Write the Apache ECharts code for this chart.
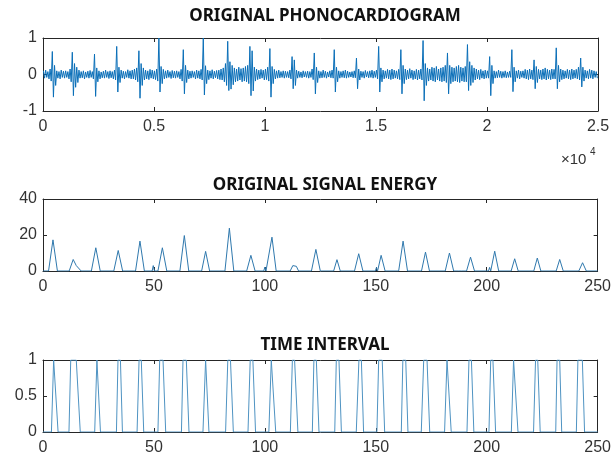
<!DOCTYPE html>
<html>
<head>
<meta charset="utf-8">
<script src="https://cdn.jsdelivr.net/npm/echarts@6/dist/echarts.min.js"></script>
<style>
    html, body { margin: 0; padding: 0; background: #fff; }
    #main { width: 614px; height: 464px; }
</style>
</head>
<body>
<div id="main"></div>
<script>
// phonocardiogram, read per 100-sample bin: upper and lower envelope
var pcgHi = [
    0.10, 0.12, 0.08, 0.15, 0.63, 0.25, 0.10, 0.08, 0.12, 0.09,
    0.10, 0.08, 0.15, 0.61, 0.30, 0.20, 0.12, 0.08, 0.10, 0.07,
    0.09, 0.11, 0.08, 0.56, 0.18, 0.10, 0.07, 0.09, 0.12, 0.08,
    0.10, 0.08, 0.12, 0.77, 0.20, 0.12, 0.09, 0.08, 0.13, 0.10,
    0.12, 0.15, 0.18, 0.65, 0.30, 0.18, 0.12, 0.10, 0.14, 0.12,
    0.10, 0.15, 1.00, 0.22, 0.14, 0.10, 0.12, 0.08, 0.11, 0.09,
    0.10, 0.08, 0.14, 0.68, 0.25, 0.12, 0.09, 0.10, 0.08, 0.12,
    0.10, 0.14, 1.00, 0.24, 0.12, 0.10, 0.13, 0.09, 0.11, 0.12,
    0.15, 0.18, 0.30, 0.91, 0.35, 0.25, 0.18, 0.15, 0.20, 0.16,
    0.18, 0.22, 0.25, 0.77, 0.65, 0.20, 0.15, 0.12, 0.14, 0.12,
    0.15, 0.20, 0.71, 0.22, 0.14, 0.10, 0.12, 0.08, 0.10, 0.09,
    0.08, 0.12, 0.49, 0.40, 0.12, 0.09, 0.07, 0.10, 0.08, 0.09,
    0.08, 0.15, 0.59, 0.20, 0.10, 0.08, 0.12, 0.09, 0.07, 0.10,
    0.12, 0.68, 0.20, 0.10, 0.08, 0.10, 0.12, 0.09, 0.07, 0.08,
    0.10, 0.45, 0.15, 0.09, 0.08, 0.11, 0.08, 0.10, 0.12, 0.09,
    0.12, 0.77, 0.18, 0.12, 0.10, 0.14, 0.12, 0.15, 0.12, 0.10,
    0.14, 0.68, 0.25, 0.15, 0.12, 0.16, 0.12, 0.10, 0.14, 0.12,
    0.15, 0.93, 0.30, 0.18, 0.15, 0.20, 0.18, 0.22, 0.15, 0.18,
    0.20, 0.25, 0.59, 0.25, 0.20, 0.18, 0.22, 0.25, 0.20, 0.18,
    0.22, 0.82, 0.35, 0.25, 0.18, 0.15, 0.12, 0.14, 0.10, 0.12,
    0.10, 0.49, 0.25, 0.10, 0.08, 0.12, 0.09, 0.08, 0.10, 0.07,
    0.09, 0.68, 0.20, 0.10, 0.12, 0.09, 0.10, 0.14, 0.12, 0.15,
    0.12, 0.40, 0.22, 0.14, 0.12, 0.15, 0.18, 0.14, 0.12, 0.15,
    0.14, 0.73, 0.25, 0.15, 0.12, 0.10, 0.14, 0.12, 0.15, 0.12,
    0.14, 0.20, 0.45, 0.20, 0.12, 0.10, 0.14, 0.12, 0.10, 0.08
];
var pcgLo = [
    -0.10, -0.08, -0.12, -0.18, -0.62, -0.30, -0.10, -0.12, -0.08, -0.10,
    -0.08, -0.12, -0.20, -0.58, -0.35, -0.22, -0.10, -0.09, -0.12, -0.08,
    -0.10, -0.08, -0.12, -0.60, -0.20, -0.12, -0.09, -0.10, -0.08, -0.11,
    -0.09, -0.12, -0.15, -0.48, -0.22, -0.10, -0.12, -0.08, -0.10, -0.12,
    -0.12, -0.15, -0.20, -0.65, -0.30, -0.15, -0.12, -0.14, -0.10, -0.12,
    -0.14, -0.18, -0.48, -0.25, -0.12, -0.10, -0.08, -0.11, -0.09, -0.10,
    -0.08, -0.12, -0.18, -0.53, -0.22, -0.12, -0.10, -0.08, -0.12, -0.10,
    -0.12, -0.15, -0.56, -0.25, -0.14, -0.10, -0.12, -0.09, -0.12, -0.14,
    -0.15, -0.20, -0.30, -0.44, -0.40, -0.28, -0.20, -0.18, -0.15, -0.20,
    -0.18, -0.20, -0.25, -0.58, -0.45, -0.18, -0.14, -0.12, -0.10, -0.15,
    -0.14, -0.18, -0.62, -0.25, -0.12, -0.10, -0.09, -0.08, -0.10, -0.08,
    -0.09, -0.12, -0.39, -0.30, -0.10, -0.08, -0.09, -0.07, -0.08, -0.10,
    -0.08, -0.14, -0.53, -0.22, -0.10, -0.09, -0.08, -0.10, -0.07, -0.09,
    -0.10, -0.48, -0.20, -0.10, -0.08, -0.09, -0.10, -0.08, -0.07, -0.09,
    -0.09, -0.39, -0.15, -0.08, -0.10, -0.07, -0.09, -0.08, -0.10, -0.08,
    -0.12, -0.48, -0.20, -0.12, -0.10, -0.12, -0.14, -0.12, -0.10, -0.12,
    -0.14, -0.53, -0.25, -0.14, -0.12, -0.10, -0.14, -0.12, -0.15, -0.12,
    -0.15, -0.72, -0.30, -0.18, -0.15, -0.18, -0.20, -0.15, -0.18, -0.20,
    -0.18, -0.22, -0.53, -0.25, -0.20, -0.18, -0.20, -0.22, -0.18, -0.20,
    -0.20, -0.44, -0.30, -0.22, -0.15, -0.12, -0.14, -0.10, -0.12, -0.10,
    -0.10, -0.58, -0.25, -0.10, -0.09, -0.08, -0.10, -0.08, -0.09, -0.08,
    -0.08, -0.47, -0.20, -0.10, -0.12, -0.08, -0.10, -0.12, -0.14, -0.12,
    -0.14, -0.39, -0.22, -0.12, -0.14, -0.12, -0.15, -0.12, -0.14, -0.12,
    -0.12, -0.39, -0.20, -0.14, -0.12, -0.10, -0.12, -0.14, -0.12, -0.10,
    -0.12, -0.15, -0.34, -0.18, -0.10, -0.12, -0.10, -0.12, -0.08, -0.10
];

// signal energy, breakpoints of the curve
var energyX = [
    0, 2.5, 4.5, 6.5, 11.8, 13.6, 15.0, 15.8, 17.2, 21.8, 23.8, 25.8,
    31.9, 33.9, 35.9, 41.7, 43.7, 45.7, 49.2, 49.7, 50.2, 51.8, 53.8, 55.8,
    61.7, 63.7, 65.7, 71.5, 73.3, 75.1, 82.0, 84.0, 86.0, 91.8, 93.7, 95.6,
    99.5, 100.0, 100.5, 101.3, 103.2, 105.1, 111.4, 112.6, 113.4, 114.2, 115.2,
    121.0, 123.0, 125.0, 131.0, 132.5, 134.0, 140.4, 142.3, 144.2,
    149.8, 150.3, 150.8, 152.4, 154.2, 160.3, 162.3, 164.3, 170.6, 172.4, 174.2,
    181.3, 183.2, 185.1, 187.4, 188.0, 188.6, 190.9, 192.7, 194.5,
    200.8, 201.3, 201.8, 203.6, 205.4, 211.0, 212.6, 214.2, 221.2, 222.8, 224.4,
    231.3, 232.9, 234.5, 241.5, 243.2, 244.9, 250
];
var energyY = [
    0, 0, 17.3, 0, 0, 6.4, 3.0, 3.4, 0, 0, 12.9, 0,
    0, 11.4, 0, 0, 16.6, 0, 0, 3.0, 0, 0, 12.9, 0,
    0, 19.7, 0, 0, 10.9, 0, 0, 23.8, 0, 0, 8.7, 0,
    0, 2.2, 0, 0, 18.8, 0, 0, 3.0, 2.0, 2.6, 0,
    0, 12.0, 0, 0, 6.3, 0, 0, 9.6, 0,
    0, 2.0, 0, 8.7, 0, 0, 16.6, 0, 0, 10.5, 0,
    0, 10.0, 0, 0, 0.6, 0, 0, 7.7, 0,
    0, 2.0, 0, 11.0, 0, 0, 6.8, 0, 0, 7.2, 0,
    0, 6.4, 0, 0, 4.6, 0, 0
];

// time interval pulses: start, reach 1, leave 1, back to 0
var pulseUp0 = [3.8, 11.7, 23.3, 33.1, 42.4, 51.8, 62.4, 72.1, 82.3, 92.4, 101.8, 111.5, 121.4,
    131.5, 141.2, 150.5, 161.5, 170.5, 181.0, 191.1, 201.0, 211.1, 221.1, 231.1, 240.4];
var pulseUp1 = [4.8, 12.5, 24.3, 33.8, 43.3, 52.6, 63.1, 73.3, 83.3, 93.4, 102.9, 112.4, 122.1,
    132.2, 142.4, 151.3, 162.2, 171.6, 182.1, 192.0, 201.8, 212.1, 222.0, 231.7, 241.1];
var pulseDown1 = [5.7, 15.0, 24.8, 34.9, 44.3, 54.1, 64.6, 73.9, 84.5, 94.6, 103.7, 113.4, 123.2,
    133.4, 143.5, 152.9, 163.5, 173.1, 183.0, 193.1, 202.8, 213.0, 223.0, 232.9, 243.1];
var pulseDown0 = [6.8, 16.8, 25.9, 35.8, 45.4, 55.3, 65.8, 74.8, 85.8, 95.8, 104.9, 114.9, 124.4,
    134.5, 144.5, 154.0, 164.5, 174.3, 184.0, 194.2, 204.0, 214.1, 224.1, 233.8, 244.1];

var titles = ['ORIGINAL PHONOCARDIOGRAM', 'ORIGINAL SIGNAL ENERGY', 'TIME INTERVAL'];

var pcgData = [];
for (var i = 0; i < pcgHi.length; i++) {
    pcgData.push([i * 100 + 20, pcgHi[i]]);
    pcgData.push([i * 100 + 70, pcgLo[i]]);
}
var energyData = energyX.map(function (x, k) { return [x, energyY[k]]; });
var intervalData = [[0, 0]];
for (var p = 0; p < pulseUp0.length; p++) {
    intervalData.push([pulseUp0[p], 0], [pulseUp1[p], 1], [pulseDown1[p], 1], [pulseDown0[p], 0]);
}
intervalData.push([250, 0]);

var axisColor = '#262626';
var labelFont = { color: '#333', fontFamily: 'Liberation Sans', fontSize: 16 };

function xAxes(grid, max, interval, fmt) {
    var base = {
        gridIndex: grid, type: 'value', min: 0, max: max, interval: interval,
        axisLine: { show: true, onZero: false, lineStyle: { color: axisColor, width: 1 } },
        axisTick: { show: true, inside: true, length: 4, lineStyle: { color: axisColor } },
        splitLine: { show: false }
    };
    var bottom = Object.assign({}, base, {
        position: 'bottom',
        axisLabel: Object.assign({ margin: 8, formatter: fmt }, labelFont)
    });
    var top = Object.assign({}, base, { position: 'top', axisLabel: { show: false } });
    return [bottom, top];
}

function yAxes(grid, min, max, interval) {
    var base = {
        gridIndex: grid, type: 'value', min: min, max: max, interval: interval,
        axisLine: { show: true, onZero: false, lineStyle: { color: axisColor, width: 1 } },
        axisTick: { show: true, inside: true, length: 4, lineStyle: { color: axisColor } },
        splitLine: { show: false }
    };
    var left = Object.assign({}, base, { position: 'left', axisLabel: Object.assign({ margin: 6 }, labelFont) });
    var right = Object.assign({}, base, { position: 'right', axisLabel: { show: false } });
    return [left, right];
}

var chart = echarts.init(document.getElementById('main'));

var option = {
    animation: false,
    backgroundColor: '#fff',
    title: titles.map(function (t, k) {
        return {
            text: t,
            left: 320,
            textAlign: 'center',
            top: [3, 172, 332][k],
            textStyle: { fontFamily: 'Noto Sans', fontWeight: 'bold', fontSize: 17, color: '#111' }
        };
    }),
    grid: [
        { left: 43, right: 16, top: 38, height: 73 },
        { left: 43, right: 16, top: 199, height: 72 },
        { left: 43, right: 16, top: 360, height: 72 }
    ],
    xAxis: [].concat(
        xAxes(0, 25000, 5000, function (v) { return v / 10000; }),
        xAxes(1, 250, 50),
        xAxes(2, 250, 50)
    ),
    yAxis: [].concat(
        yAxes(0, -1, 1, 1),
        yAxes(1, 0, 40, 20),
        yAxes(2, 0, 1, 0.5)
    ),
    graphic: [
        { type: 'text', left: 561, top: 152, style: { text: '×10', fontFamily: 'Liberation Sans', fontSize: 15, fill: '#333' } },
        { type: 'text', left: 590, top: 147, style: { text: '4', fontFamily: 'Liberation Sans', fontSize: 10, fill: '#333' } }
    ],
    series: [
        {
            type: 'line', xAxisIndex: 0, yAxisIndex: 0, data: pcgData,
            showSymbol: false, lineStyle: { color: '#0b6fb8', width: 1 }
        },
        {
            type: 'line', xAxisIndex: 2, yAxisIndex: 2, data: energyData,
            showSymbol: false, lineStyle: { color: '#2f78ad', width: 1 }
        },
        {
            type: 'line', xAxisIndex: 4, yAxisIndex: 4, data: intervalData,
            showSymbol: false, lineStyle: { color: '#4f93c2', width: 1 }
        }
    ]
};

chart.setOption(option);
</script>
</body>
</html>
